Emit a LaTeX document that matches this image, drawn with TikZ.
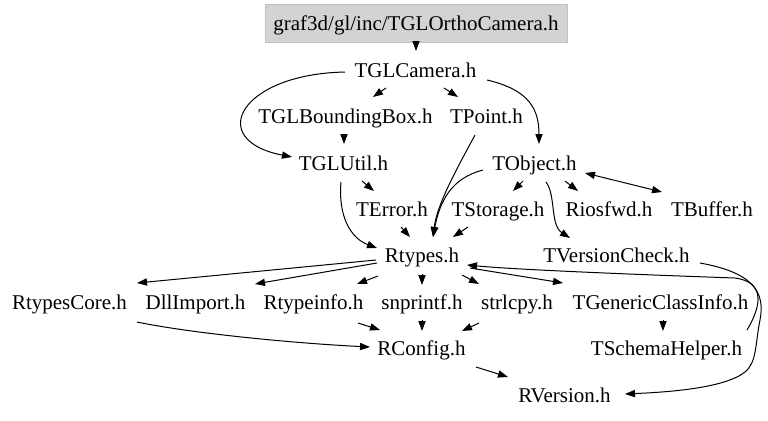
\documentclass[tikz,border=0pt]{standalone}
\usepackage{fontspec}
\setmainfont{Liberation Serif}
\usetikzlibrary{arrows.meta}
\definecolor{boxfill}{HTML}{D3D3D3}
\definecolor{boxline}{HTML}{C0C0C0}
\begin{document}
\begin{tikzpicture}[x=0.5pt,y=-0.5pt,
  lbl/.style={inner sep=0pt, text height=8pt, text depth=1pt, font=\fontsize{10.5}{12}\selectfont},
  e/.style={line width=0.5pt, -{Triangle[length=5pt,width=3.6pt]}},
  ee/.style={line width=0.5pt, {Triangle[length=5pt,width=3.6pt]}-{Triangle[length=5pt,width=3.6pt]}}]
\useasboundingbox (0,0) rectangle (768,420);
\node[lbl, fill=boxfill, draw=boxline, line width=0.5pt, minimum width=151pt, minimum height=19pt] (ortho) at (416,23) {graf3d/gl/inc/TGLOrthoCamera.h};
\node[lbl] (cam) at (415.5,70) {TGLCamera.h};
\node[lbl] (bbox) at (345.5,116) {TGLBoundingBox.h};
\node[lbl] (tpoint) at (486.5,116) {TPoint.h};
\node[lbl] (util) at (343.5,163) {TGLUtil.h};
\node[lbl] (tobj) at (534.5,163) {TObject.h};
\node[lbl] (terr) at (392,209) {TError.h};
\node[lbl] (tstor) at (498,209) {TStorage.h};
\node[lbl] (rios) at (609,209) {Riosfwd.h};
\node[lbl] (tbuf) at (712,209) {TBuffer.h};
\node[lbl] (rtypes) at (422,255.5) {Rtypes.h};
\node[lbl] (tvc) at (616.5,255.5) {TVersionCheck.h};
\node[lbl] (rcore) at (69.5,302) {RtypesCore.h};
\node[lbl] (dll) at (195.5,302) {DllImport.h};
\node[lbl] (rinfo) at (313.5,302) {Rtypeinfo.h};
\node[lbl] (snp) at (422,302) {snprintf.h};
\node[lbl] (strl) at (517,302) {strlcpy.h};
\node[lbl] (tgci) at (660.5,302) {TGenericClassInfo.h};
\node[lbl] (rconf) at (421.5,348.5) {RConfig.h};
\node[lbl] (tsh) at (666.5,348.5) {TSchemaHelper.h};
\node[lbl] (rver) at (564.5,395) {RVersion.h};

\draw[e] (ortho.south) -- ([shift={(0.5,-19)}]cam.center);
\draw[e] ([shift={(-29.5,18)}]cam.center) -- ([shift={(27.5,-19)}]bbox.center);
\draw[e] ([shift={(28.5,18)}]cam.center) -- ([shift={(-28.5,-19)}]tpoint.center);
\draw[e] ([shift={(-70.5,2)}]cam.center) .. controls (240,74) and (205,140) .. ([shift={(-51.5,-6)}]util.center);
\draw[e] ([shift={(71.5,10)}]cam.center) .. controls (530,90) and (539,110) .. ([shift={(4.5,-19)}]tobj.center);
\draw[e] ([shift={(-1.5,18)}]bbox.center) -- ([shift={(0.5,-19)}]util.center);
\draw[e] ([shift={(-11.5,19)}]tpoint.center) .. controls (455,172) and (437,205) .. ([shift={(11,-18.5)}]rtypes.center);
\draw[e] ([shift={(-51.5,7)}]tobj.center) .. controls (452,178) and (440,200) .. ([shift={(11,-18.5)}]rtypes.center);
\draw[e] ([shift={(18.5,18)}]util.center) -- ([shift={(-18,-18)}]terr.center);
\draw[e] ([shift={(-2.5,19)}]util.center) .. controls (338,215) and (350,238) .. ([shift={(-45,-7.5)}]rtypes.center);
\draw[e] ([shift={(9,18)}]terr.center) -- ([shift={(-12,-18.5)}]rtypes.center);
\draw[e] ([shift={(-30,18)}]tstor.center) -- ([shift={(31,-18.5)}]rtypes.center);
\draw[e] ([shift={(-11.5,18)}]tobj.center) -- ([shift={(15,-18)}]tstor.center);
\draw[e] ([shift={(30.5,18)}]tobj.center) -- ([shift={(-31,-18)}]rios.center);
\draw[ee] ([shift={(50.5,10)}]tobj.center) -- ([shift={(-50,-17)}]tbuf.center);
\draw[e] ([shift={(11.5,19)}]tobj.center) .. controls (556,195) and (550,225) .. ([shift={(-46.5,-17.5)}]tvc.center);
\draw[e] ([shift={(83.5,7.5)}]tvc.center) .. controls (750,272) and (766,290) .. (760,320) .. controls (755,345) and (757,362) .. (745,372) .. controls (725,388) and (670,392) .. ([shift={(60.5,-1)}]rver.center);
\draw[e] ([shift={(80.5,-18.5)}]tsh.center) .. controls (762,305) and (765,282) .. (735,278) .. controls (650,275) and (520,270) .. ([shift={(45,9.5)}]rtypes.center);
\draw[e] ([shift={(-46,4.5)}]rtypes.center) -- ([shift={(67.5,-19)}]rcore.center);
\draw[e] ([shift={(-45,7.5)}]rtypes.center) -- ([shift={(59.5,-18)}]dll.center);
\draw[e] ([shift={(-44,20.5)}]rtypes.center) -- ([shift={(43.5,-18)}]rinfo.center);
\draw[e] ([shift={(0,18.5)}]rtypes.center) -- ([shift={(0,-17)}]snp.center);
\draw[e] ([shift={(40,19.5)}]rtypes.center) -- ([shift={(-38,-18)}]strl.center);
\draw[e] ([shift={(48,12.5)}]rtypes.center) -- ([shift={(-97.5,-19)}]tgci.center);
\draw[e] ([shift={(44.5,21)}]rinfo.center) -- ([shift={(-41.5,-18.5)}]rconf.center);
\draw[e] ([shift={(67.5,20)}]rcore.center) .. controls (190,333) and (290,343) .. ([shift={(-51.5,-1.5)}]rconf.center);
\draw[e] ([shift={(0,18)}]snp.center) -- ([shift={(0.5,-17.5)}]rconf.center);
\draw[e] ([shift={(-38,21)}]strl.center) -- ([shift={(40.5,-17.5)}]rconf.center);
\draw[e] ([shift={(54.5,18.5)}]rconf.center) -- ([shift={(-56.5,-18)}]rver.center);
\draw[e] ([shift={(2.5,18)}]tgci.center) -- ([shift={(-3.5,-17.5)}]tsh.center);
\end{tikzpicture}
\end{document}
